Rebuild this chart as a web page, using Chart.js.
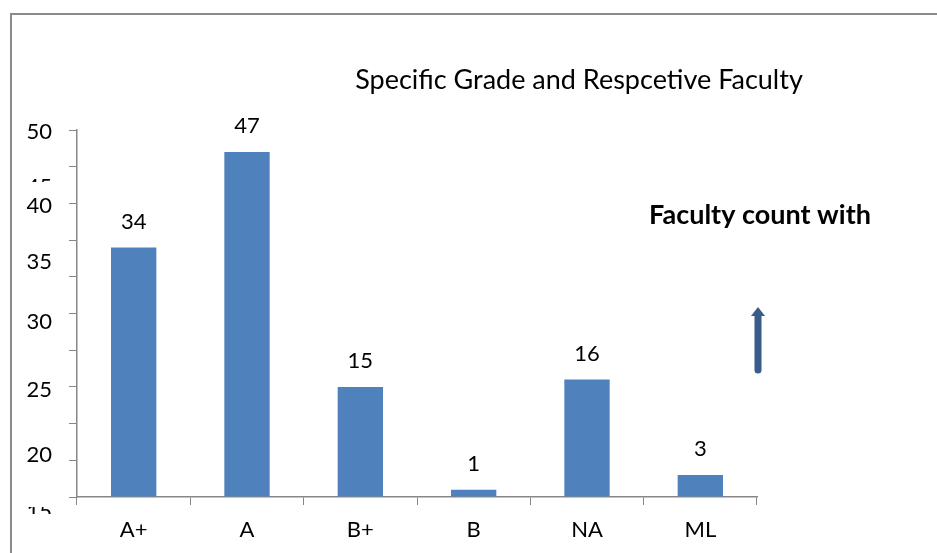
<!DOCTYPE html>
<html>
<head>
<meta charset="utf-8">
<script src="https://cdn.jsdelivr.net/npm/chart.js@4.4.1/dist/chart.umd.min.js"></script>
<style>
  html, body { margin: 0; padding: 0; background: #fff; }
  #wrap { width: 937px; height: 553px; }
</style>
</head>
<body>
<div id="wrap"><canvas id="myChart" width="937" height="553"></canvas></div>
<script>
const grades = ["A+", "A", "B+", "B", "NA", "ML"];
const facultyCount = [34, 47, 15, 1, 16, 3];
// the printed y labels do not sit on the tick marks in the original, so keep where they fall
const yTickText = ["50", "45", "40", "35", "30", "25", "20", "15"];
const yTickAt = [49.7, 42.3, 39.7, 32, 23.8, 14.6, 5.7, -2];

const FONT = "Lato, 'Open Sans', sans-serif";
const GRAY = "#878787";

const decor = {
  id: "decor",
  afterDraw(chart) {
    const ctx = chart.ctx;
    const y = chart.scales.y;
    ctx.save();

    // outer frame (only top and left show in the window)
    ctx.strokeStyle = "#8a8a8a";
    ctx.lineWidth = 2;
    ctx.beginPath();
    ctx.moveTo(11, 553);
    ctx.lineTo(11, 14);
    ctx.lineTo(937, 14);
    ctx.stroke();

    // title
    ctx.fillStyle = "#000";
    ctx.font = "27px " + FONT;
    ctx.textAlign = "center";
    ctx.textBaseline = "middle";
    ctx.fillText("Specific Grade and Respcetive Faculty", 579, 80);

    // side note
    ctx.font = "bold 27px " + FONT;
    ctx.textAlign = "left";
    ctx.fillText("Faculty count with", 649, 215);

    // arrow
    ctx.strokeStyle = "#395d8b";
    ctx.fillStyle = "#395d8b";
    ctx.lineWidth = 7;
    ctx.lineCap = "round";
    ctx.beginPath();
    ctx.moveTo(758, 370);
    ctx.lineTo(758, 314);
    ctx.stroke();
    ctx.beginPath();
    ctx.moveTo(751, 316);
    ctx.lineTo(758, 307);
    ctx.lineTo(765, 316);
    ctx.closePath();
    ctx.fill();

    // value labels over the bars
    ctx.fillStyle = "#000";
    ctx.font = "22px " + FONT;
    ctx.textAlign = "center";
    const meta = chart.getDatasetMeta(0);
    meta.data.forEach((bar, i) => {
      ctx.fillText(String(facultyCount[i]), bar.x, bar.y - 26);
    });

    // y labels, with the two half hidden ones cut like in the original
    ctx.textAlign = "right";
    yTickText.forEach((t, i) => {
      const py = y.getPixelForValue(yTickAt[i]);
      ctx.save();
      if (t === "45") {
        ctx.beginPath();
        ctx.rect(0, 177, 70, 5);
        ctx.clip();
      } else if (t === "15") {
        ctx.beginPath();
        ctx.rect(0, 507, 70, 7);
        ctx.clip();
      }
      ctx.fillText(t, 52, py);
      ctx.restore();
    });

    ctx.restore();
  }
};

new Chart(document.getElementById("myChart"), {
  type: "bar",
  data: {
    labels: grades,
    datasets: [{
      data: facultyCount,
      backgroundColor: "#4f81bd",
      borderWidth: 0,
      barPercentage: 0.4,
      categoryPercentage: 1
    }]
  },
  options: {
    responsive: false,
    animation: false,
    layout: { padding: { left: 57, top: 130, right: 180, bottom: 0 } },
    plugins: {
      legend: { display: false },
      tooltip: { enabled: false },
      title: { display: false }
    },
    scales: {
      x: {
        afterFit(s) { s.height = 56; },
        grid: { display: true, drawOnChartArea: false, drawTicks: true, tickLength: 8, color: GRAY, offset: true },
        border: { display: true, color: GRAY, width: 1.5 },
        ticks: { color: "#000", font: { family: FONT, size: 22 }, padding: 12 }
      },
      y: {
        min: 0,
        max: 50,
        afterFit(s) { s.width = 20; },
        grid: { display: true, drawOnChartArea: false, drawTicks: true, tickLength: 8, color: GRAY },
        border: { display: true, color: GRAY, width: 1.5 },
        ticks: { stepSize: 5, color: "rgba(0,0,0,0)", font: { size: 19 } }
      }
    }
  },
  plugins: [decor]
});
</script>
</body>
</html>
